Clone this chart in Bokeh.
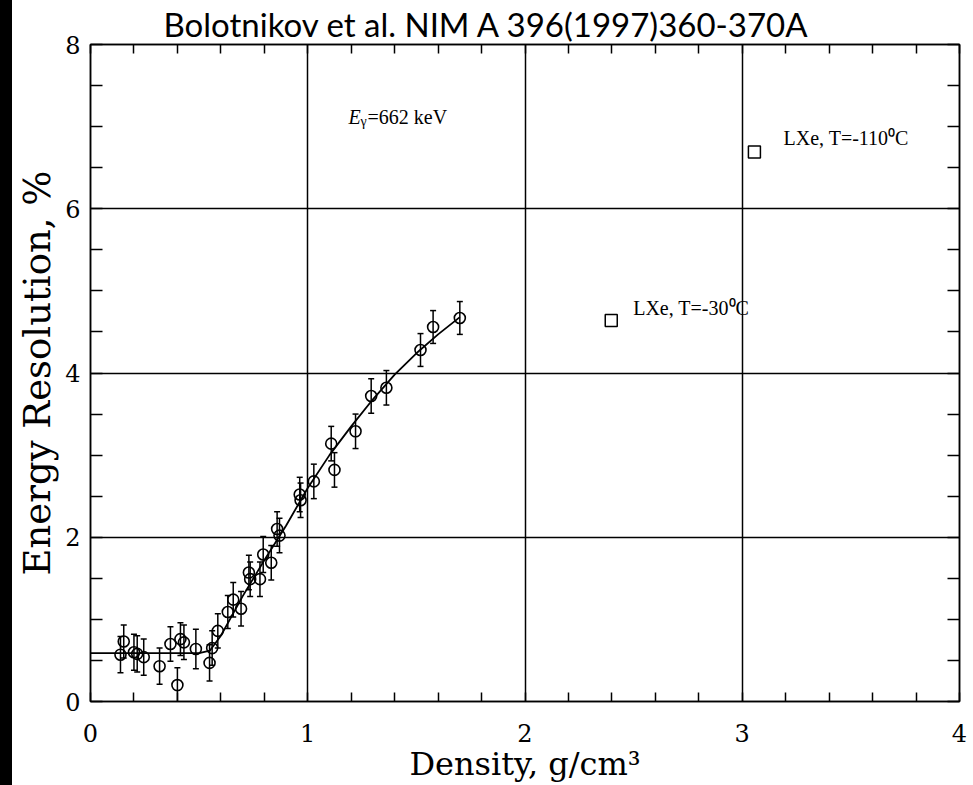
from bokeh.plotting import figure
from bokeh.models import (FixedTicker, LinearAxis, Label, Title, Div, Range1d)
from bokeh.layouts import row
from bokeh.embed import file_html
from bokeh.resources import INLINE

# ---- data ----
density = [0.138, 0.153, 0.200, 0.215, 0.245, 0.318, 0.368, 0.400, 0.414, 0.430,
           0.485, 0.548, 0.560, 0.586, 0.632, 0.657, 0.693, 0.729, 0.735, 0.780,
           0.795, 0.832, 0.859, 0.870, 0.963, 0.967, 1.028, 1.108, 1.123, 1.220,
           1.292, 1.362, 1.519, 1.577, 1.700]
resolution = [0.57, 0.73, 0.60, 0.58, 0.54, 0.43, 0.70, 0.20, 0.76, 0.72,
              0.64, 0.47, 0.65, 0.86, 1.09, 1.24, 1.13, 1.57, 1.49, 1.49,
              1.79, 1.69, 2.10, 2.02, 2.52, 2.45, 2.68, 3.14, 2.82, 3.29,
              3.72, 3.82, 4.28, 4.56, 4.67]
errors = [0.22, 0.20, 0.22, 0.22, 0.22, 0.22, 0.21, 0.21, 0.20, 0.21,
          0.24, 0.22, 0.21, 0.21, 0.20, 0.21, 0.21, 0.21, 0.21, 0.21,
          0.22, 0.21, 0.21, 0.21, 0.21, 0.21, 0.21, 0.21, 0.21, 0.21,
          0.21, 0.21, 0.20, 0.20, 0.20]

fit_x = [0.0, 0.3, 0.5, 0.55, 0.6, 0.65, 0.7, 0.8, 0.9, 1.0, 1.1, 1.2, 1.3, 1.4, 1.5, 1.6, 1.7]
fit_y = [0.59, 0.59, 0.59, 0.62, 0.80, 1.04, 1.28, 1.72, 2.14, 2.60, 3.00, 3.35, 3.68, 3.98, 4.24, 4.47, 4.68]

lxe_density = [2.397, 3.056]
lxe_resolution = [4.64, 6.69]
lxe_labels = ["LXe, T=-30\u2070C", "LXe, T=-110\u2070C"]

x_major = [0, 1, 2, 3, 4]
x_minor = [0.2, 0.4, 0.6, 0.8, 1.2, 1.4, 1.6, 1.8, 2.2, 2.4, 2.6, 2.8, 3.2, 3.4, 3.6, 3.8]
y_major = [0, 2, 4, 6, 8]
y_minor = [0.5, 1, 1.5, 2.5, 3, 3.5, 4.5, 5, 5.5, 6.5, 7, 7.5]

title_text = "Bolotnikov et al. NIM A 396(1997)360-370A"
x_label = "Density, g/cm\u00b3"
y_label = "Energy Resolution, %"

SERIF = "Liberation Serif"
AXSERIF = "DejaVu Serif"

p = figure(width=961, height=785, x_range=Range1d(0, 4), y_range=Range1d(0, 8),
           toolbar_location=None, output_backend="svg",
           min_border_left=78, min_border_right=14, min_border_top=43, min_border_bottom=84)

p.background_fill_color = "white"
p.border_fill_color = "white"
p.outline_line_color = "black"
p.outline_line_width = 1.5

# title
t = Title(text=title_text, align="left", offset=73, text_font="Lato",
          text_font_size="33px", text_font_style="normal", text_color="black",
          standoff=2)
p.title = t

xt = FixedTicker(ticks=x_major, minor_ticks=x_minor)
yt = FixedTicker(ticks=y_major, minor_ticks=y_minor)

def style_axis(ax, minor_len):
    ax.axis_line_color = "black"
    ax.axis_line_width = 1.5
    ax.major_tick_in = minor_len
    ax.major_tick_out = 0
    ax.minor_tick_in = minor_len
    ax.minor_tick_out = 0
    ax.major_tick_line_color = "black"
    ax.minor_tick_line_color = "black"
    ax.major_tick_line_width = 1.5
    ax.minor_tick_line_width = 1.5
    ax.major_label_text_font = AXSERIF
    ax.major_label_text_font_size = "24px"
    ax.major_label_text_color = "black"
    ax.axis_label_text_font = AXSERIF
    ax.axis_label_text_font_style = "normal"
    ax.axis_label_text_color = "black"

p.xaxis.ticker = xt
p.yaxis.ticker = yt
style_axis(p.xaxis[0], 9)
style_axis(p.yaxis[0], 12)
p.xaxis.axis_label = x_label
p.yaxis.axis_label = y_label
p.xaxis.axis_label_text_font_size = "32px"
p.yaxis.axis_label_text_font_size = "37px"
p.xaxis.major_label_standoff = 22
p.xaxis.axis_label_standoff = 0
p.yaxis.major_label_standoff = 10
p.yaxis.axis_label_standoff = 3

# top and right axes: ticks only (all as minor ticks, so no labels)
top = LinearAxis(ticker=FixedTicker(ticks=[], minor_ticks=x_major + x_minor))
style_axis(top, 9)
p.add_layout(top, "above")
right = LinearAxis(ticker=FixedTicker(ticks=[], minor_ticks=y_major + y_minor))
style_axis(right, 12)
p.add_layout(right, "right")

p.xgrid.ticker = xt
p.ygrid.ticker = yt
p.xgrid.grid_line_color = "black"
p.ygrid.grid_line_color = "black"
p.xgrid.grid_line_width = 1.5
p.ygrid.grid_line_width = 1.5

# fit line
p.line(fit_x, fit_y, line_color="black", line_width=1.8)

# error bars
lo = [r - e for r, e in zip(resolution, errors)]
hi = [r + e for r, e in zip(resolution, errors)]
p.segment(x0=density, y0=lo, x1=density, y1=hi, line_color="black", line_width=1.5)
p.scatter(density, lo, marker="dash", size=6, line_color="black", line_width=1.5)
p.scatter(density, hi, marker="dash", size=6, line_color="black", line_width=1.5)

# data points
p.scatter(density, resolution, marker="circle", size=11, fill_color="white",
          fill_alpha=0.0, line_color="black", line_width=1.6)

# LXe squares
p.scatter(lxe_density, lxe_resolution, marker="square", size=12, fill_color="white",
          line_color="black", line_width=1.5)

# annotations
p.add_layout(Label(x=2.498, y=4.79, text=lxe_labels[0], text_font=SERIF,
                   text_font_size="20px", text_baseline="middle", text_color="black"))
p.add_layout(Label(x=3.19, y=6.86, text=lxe_labels[1], text_font=SERIF,
                   text_font_size="20px", text_baseline="middle", text_color="black"))

p.add_layout(Label(x=1.188, y=7.12, text="E", text_font=SERIF, text_font_style="italic",
                   text_font_size="20px", text_baseline="middle", text_color="black"))
p.add_layout(Label(x=1.188, y=7.12, x_offset=12, y_offset=-5, text="\u03b3", text_font=SERIF,
                   text_font_size="14px", text_baseline="middle", text_color="black"))
p.add_layout(Label(x=1.188, y=7.12, x_offset=19, text="=662 keV", text_font=SERIF,
                   text_font_size="20px", text_baseline="middle", text_color="black"))

strip = Div(text="", width=12, height=785, margin=(0, 0, 0, 0),
            styles={"background-color": "black"})

layout = row(strip, p, spacing=0)

open("out.html", "w").write(file_html(layout, INLINE))
